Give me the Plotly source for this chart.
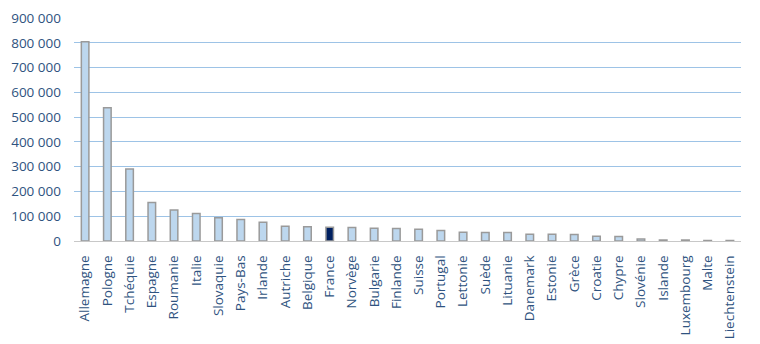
import plotly.graph_objects as go

countries = ["Allemagne", "Pologne", "Tchéquie", "Espagne", "Roumanie", "Italie", "Slovaquie",
             "Pays-Bas", "Irlande", "Autriche", "Belgique", "France", "Norvège", "Bulgarie",
             "Finlande", "Suisse", "Portugal", "Lettonie", "Suède", "Lituanie", "Danemark",
             "Estonie", "Grèce", "Croatie", "Chypre", "Slovénie", "Islande", "Luxembourg",
             "Malte", "Liechtenstein"]
values = [804000, 538000, 291000, 155000, 125000, 111000, 94000,
          87000, 76000, 60000, 58000, 55000, 54000, 51000,
          50000, 47000, 42000, 35000, 34000, 34000, 27000,
          27000, 26000, 19000, 18000, 8000, 4000, 4000,
          2000, 2000]
highlight = "France"

fill_colors = ["#002060" if c == highlight else "#BDD7EE" for c in countries]

fig = go.Figure(go.Bar(
    x=countries, y=values,
    marker=dict(color=fill_colors, line=dict(color="#9A9A9A", width=1.5)),
    width=0.34,
))

fig.update_layout(
    width=760, height=344,
    margin=dict(l=74, r=19, t=18, b=103),
    paper_bgcolor="white", plot_bgcolor="white",
    separators=". ",
    showlegend=False,
    font=dict(family="Open Sans", size=13, color="#2F5380"),
)
fig.update_yaxes(
    range=[0, 900000], dtick=100000, tickformat=",d",
    showgrid=True, gridcolor="#9DC3E6", gridwidth=1,
    zeroline=False, showline=False, ticks="",
    ticklabelstandoff=12, automargin=False,
    tickfont=dict(size=13.5, color="#2F5380"),
)
fig.update_xaxes(
    tickangle=-90, showline=True, linecolor="#C8C8C8", linewidth=1,
    ticks="", ticklabelstandoff=8, automargin=False,
    tickfont=dict(size=13.5, color="#2F5380"),
)

fig.write_html("out.html")
